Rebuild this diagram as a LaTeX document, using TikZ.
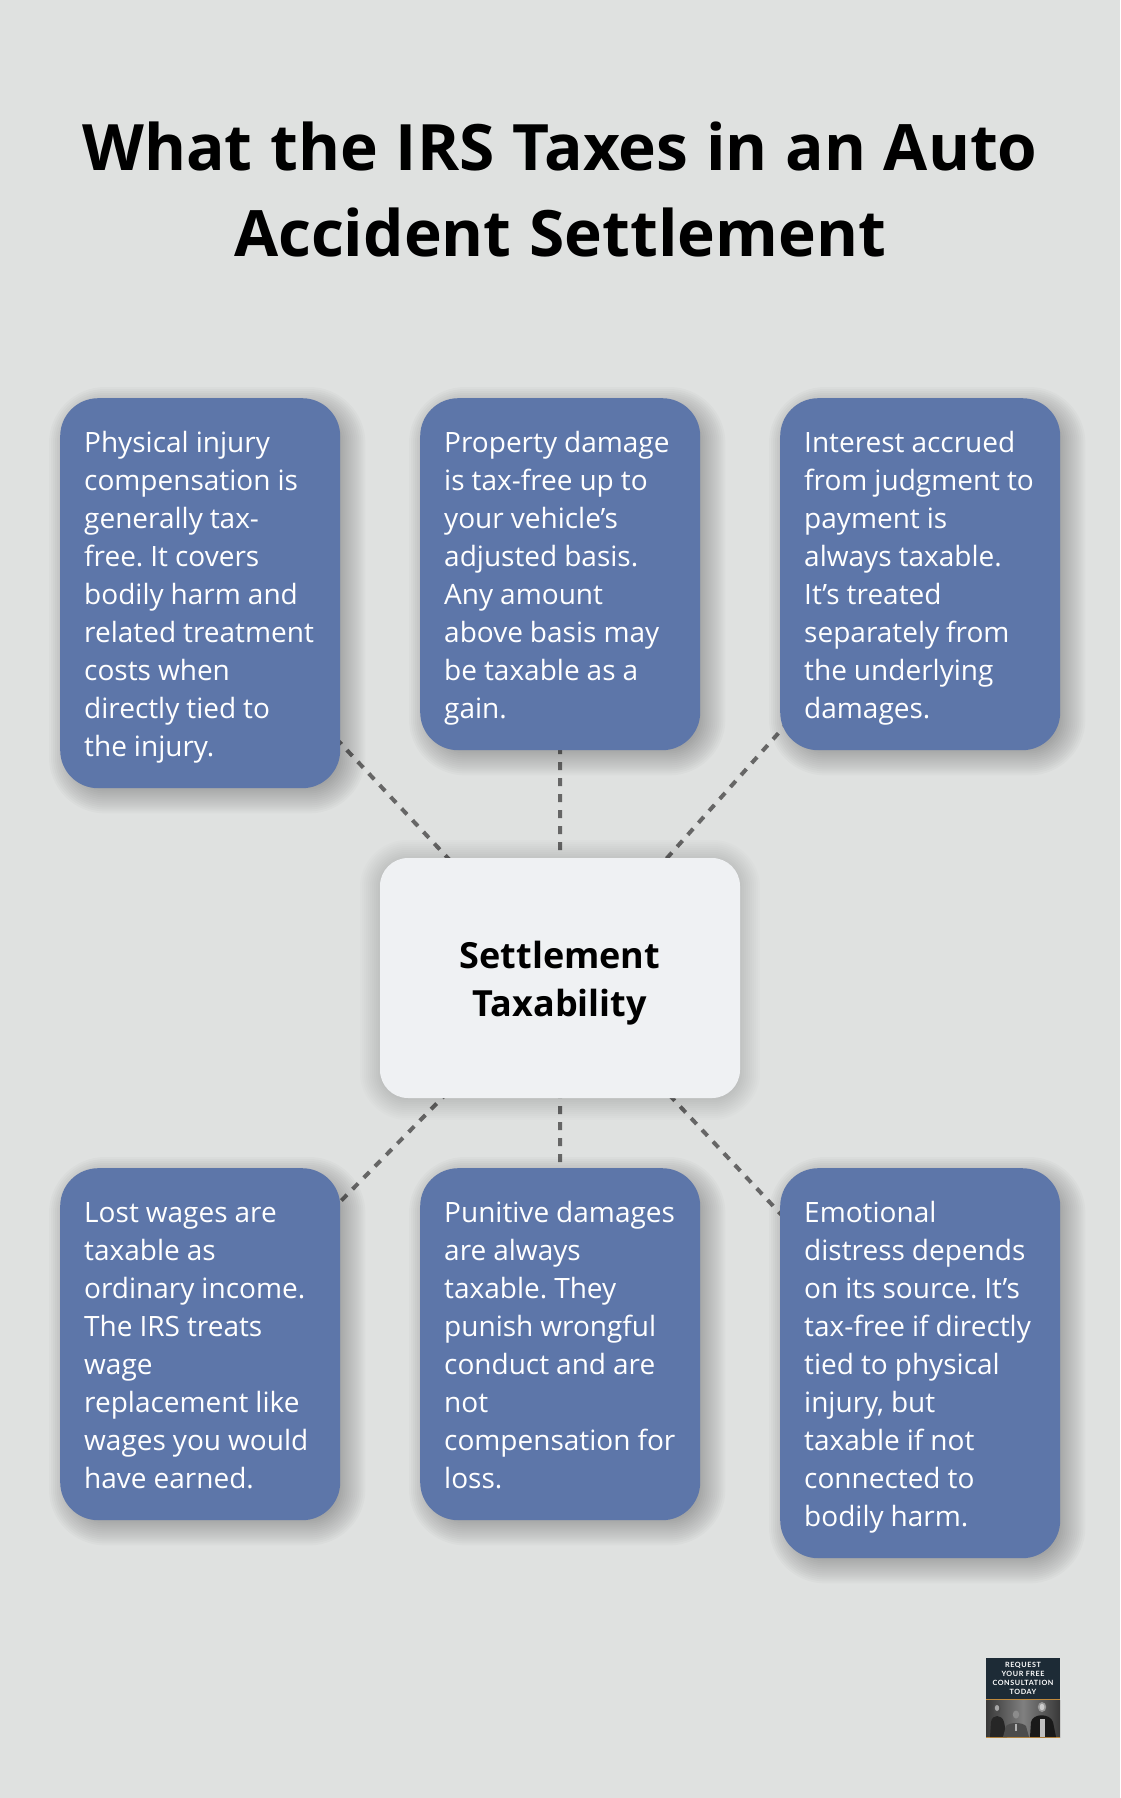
\documentclass[tikz,border=0pt]{standalone}
\usepackage{fontspec}
\setmainfont{Open Sans}
\newfontfamily\logofont[LetterSpace=8]{Lato}
\pgfdeclarelayer{pagelayer}
\pgfdeclarelayer{shadowlayer}
\pgfdeclarelayer{linklayer}
\pgfsetlayers{pagelayer,linklayer,shadowlayer,main}
\definecolor{pagebg}{HTML}{DFE1E0}
\definecolor{cardblue}{HTML}{5D76A9}
\definecolor{hubfill}{HTML}{EFF1F3}
\definecolor{linkgrey}{HTML}{666666}
\definecolor{logodark}{HTML}{1D2B36}
\definecolor{logoorange}{HTML}{C08A3E}
\newcommand\linestrut{\rule[-8.1pt]{0pt}{38pt}}
\newcommand\softshadow[6]{% node, dx, dy, blur, alpha per step, radius
  \begin{pgfonlayer}{shadowlayer}
  \foreach \i in {0,...,#4}{
    \pgfmathsetmacro\s{2*\i-#4}
    \pgfmathsetmacro\rr{max(#6+\s,1)}
    \fill[black,fill opacity=#5,rounded corners=\rr pt]
      ([shift={({#2-\s},{#3-\s})}]#1.north west) rectangle ([shift={({#2+\s},{#3+\s})}]#1.south east);
  }
  \end{pgfonlayer}}
\tikzset{
  x=1pt,y=-1pt,
  card/.style={fill=cardblue,text=white,rounded corners=38pt,inner xsep=12pt,inner ysep=24pt,
    text width=256pt,minimum width=280pt,anchor=north west,
    font=\fontsize{28}{38}\selectfont\frenchspacing,
    execute at begin node={\leftskip=12pt\rightskip=0pt plus 1fil\parfillskip=0pt\spaceskip=7pt\relax}},
  hub/.style={fill=hubfill,text=black,rounded corners=28pt,minimum width=360pt,
    minimum height=240pt,align=center,font=\fontsize{36}{48}\selectfont\bfseries},
  link/.style={draw=linkgrey,line width=4pt,dash pattern=on 8pt off 8pt},
  titletext/.style={text=black,align=center,text width=1040pt,font=\fontsize{64}{86}\selectfont\bfseries,
    execute at begin node={\spaceskip=17.8pt\relax}},
  logotext/.style={text=white,align=center,font=\fontsize{7.2}{8.8}\selectfont\logofont\bfseries,inner sep=0pt},
}
\begin{document}
\begin{tikzpicture}
\useasboundingbox (0,0) rectangle (1120,1798);
\begin{pgfonlayer}{pagelayer}
\fill[pagebg] (0,0) rectangle (1120,1798);
\end{pgfonlayer}

\node[titletext] (title) at (560,190) {What the IRS Taxes in an Auto\\Accident Settlement};

\node[hub] (c) at (560,978) {\rule{0pt}{37pt}Settlement\\Taxability};
\node[card] (b1) at (60,398) {\linestrut Physical injury\\compensation is\\generally tax-\\free. It covers\\bodily harm and\\related treatment\\costs when\\directly tied to\\the injury.\linestrut};
\node[card] (b2) at (420,398) {\linestrut Property damage\\is tax-free up to\\your vehicle’s\\adjusted basis.\\Any amount\\above basis may\\be taxable as a\\gain.\linestrut};
\node[card] (b3) at (780,398) {\linestrut Interest accrued\\from judgment to\\payment is\\always taxable.\\It’s treated\\separately from\\the underlying\\damages.\linestrut};
\node[card] (b4) at (60,1168) {\linestrut Lost wages are\\taxable as\\ordinary income.\\The IRS treats\\wage\\replacement like\\wages you would\\have earned.\linestrut};
\node[card] (b5) at (420,1168) {\linestrut Punitive damages\\are always\\taxable. They\\punish wrongful\\conduct and are\\not\\compensation for\\loss.\linestrut};
\node[card] (b6) at (780,1168) {\linestrut Emotional\\distress depends\\on its source. It’s\\tax-free if directly\\tied to physical\\injury, but\\taxable if not\\connected to\\bodily harm.\linestrut};

\foreach \n in {b1,b2,b3,b4,b5,b6}{\softshadow{\n}{7}{7}{18}{0.018}{38}}
\softshadow{c}{0}{2}{20}{0.01}{28}

\begin{pgfonlayer}{linklayer}
\foreach \n in {b1,b2,b3,b4,b5,b6}{\draw[link] (c.center) -- (\n.center);}
\end{pgfonlayer}

% logo
\fill[logodark] (986,1658) rectangle (1060,1699);
\fill[logoorange] (986,1699) rectangle (1060,1700);
\shade[left color=black!78,right color=black!78,middle color=black!50] (986,1700) rectangle (1060,1737);
\fill[logoorange] (986,1737) rectangle (1060,1738);
\fill[black!85] (990,1737) -- (991,1722) .. controls (992,1714) and (1002,1714) .. (1004,1722) -- (1007,1737) -- cycle;
\fill[black!70] (997,1708.5) circle[x radius=3.6,y radius=5.5];
\fill[black!35] (997,1708) circle[x radius=2.2,y radius=3];
\fill[black!70] (1003,1737) -- (1006,1726) .. controls (1010,1722) and (1022,1722) .. (1026,1726) -- (1029,1737) -- cycle;
\fill[black!30] (1014.8,1724) rectangle (1017.2,1731);
\fill[black!45] (1016,1714.5) circle[x radius=3.2,y radius=4];
\fill[black!90] (1030,1737) -- (1031,1722) .. controls (1033,1713) and (1050,1713) .. (1053,1722) -- (1056,1737) -- cycle;
\fill[black!25] (1040,1719) rectangle (1045,1737);
\fill[black!40] (1042,1707) circle[x radius=4.2,y radius=5];
\fill[black!20] (1042,1707) circle[x radius=2.4,y radius=3.2];
\node[logotext] (logo) at (1023,1678.5) {REQUEST\\YOUR FREE\\CONSULTATION\\TODAY};
\end{tikzpicture}
\end{document}
